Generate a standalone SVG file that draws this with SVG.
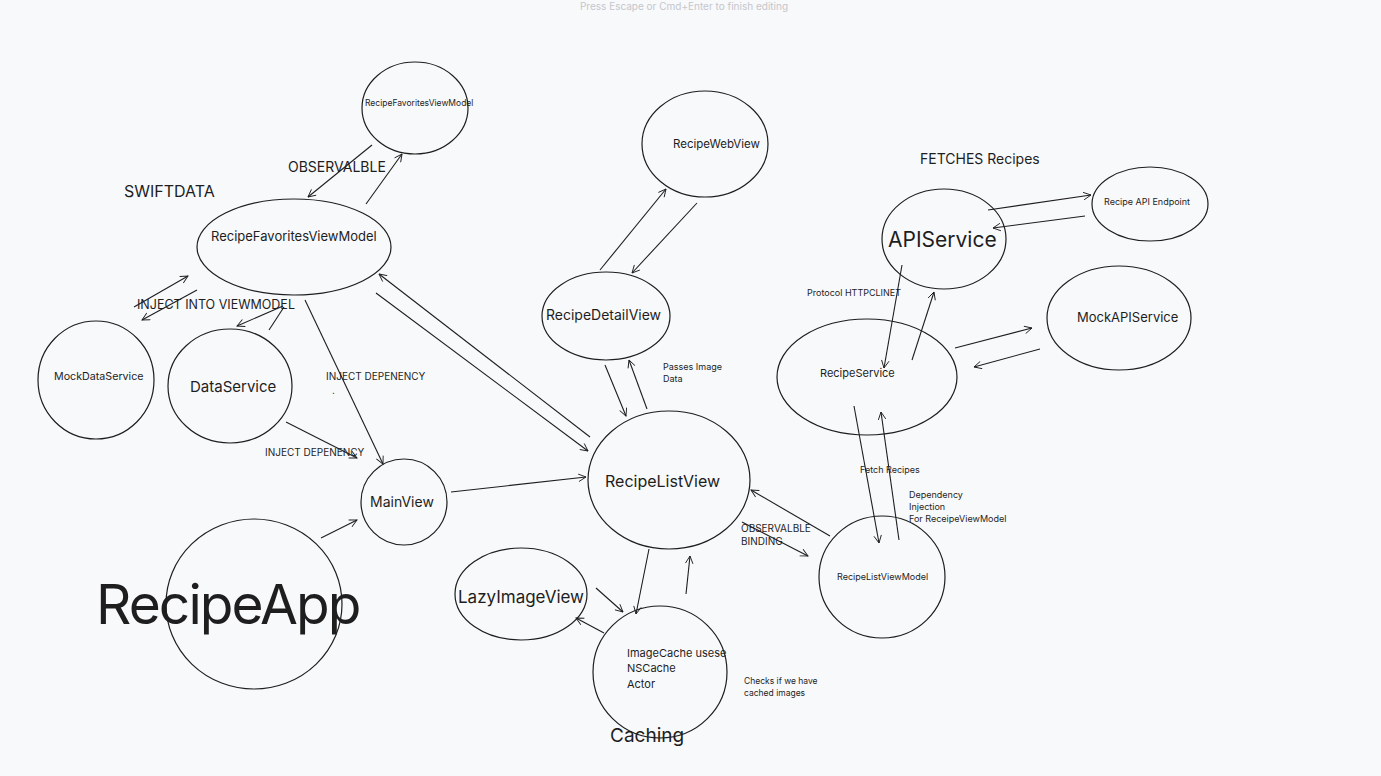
<svg xmlns="http://www.w3.org/2000/svg" width="1381" height="776" viewBox="0 0 1381 776">
<defs>
<marker id="ah" viewBox="0 0 12 12" refX="11" refY="6" markerWidth="9" markerHeight="9" orient="auto" markerUnits="userSpaceOnUse">
<path d="M1,1 L11,6 L1,11" fill="none" stroke="#1e1e1e" stroke-width="1.2"/>
</marker>
<style>
.n{fill:none;stroke:#1e1e1e;stroke-width:1.2}
.c line{stroke:#1e1e1e;stroke-width:1.1;marker-end:url(#ah)}
.c line.p{marker-end:none}
text{font-family:Inter,"Noto Sans","Liberation Sans",sans-serif;fill:#1e1e1e}
</style>
</defs>
<rect width="1381" height="776" fill="#f8f9fb"/>
<text x="684" y="10" font-size="10" style="fill:#c4c6cc" text-anchor="middle">Press Escape or Cmd+Enter to finish editing</text>

<g id="n-rfvm-small"><ellipse class="n" cx="415" cy="108" rx="53" ry="46"/><text x="365" y="106" font-size="8.5">RecipeFavoritesViewModel</text></g>
<g id="n-rfvm"><ellipse class="n" cx="294" cy="247" rx="97" ry="48"/><text x="211" y="241" font-size="13">RecipeFavoritesViewModel</text></g>
<g id="n-mockdata"><ellipse class="n" cx="96" cy="380" rx="58" ry="59"/><text x="54" y="380" font-size="10.7">MockDataService</text></g>
<g id="n-data"><ellipse class="n" cx="230" cy="386" rx="62" ry="57"/><text x="190" y="392" font-size="15">DataService</text></g>
<g id="n-main"><ellipse class="n" cx="404" cy="502" rx="43" ry="43"/><text x="370" y="507" font-size="14">MainView</text></g>
<g id="n-app"><ellipse class="n" cx="254" cy="604" rx="88" ry="85"/><text x="96" y="624" font-size="55" letter-spacing="-1.9">RecipeApp</text></g>
<g id="n-web"><ellipse class="n" cx="705" cy="144" rx="63" ry="53"/><text x="673" y="148" font-size="11.5">RecipeWebView</text></g>
<g id="n-detail"><ellipse class="n" cx="606" cy="316" rx="64" ry="44"/><text x="546" y="320" font-size="14">RecipeDetailView</text></g>
<g id="n-list"><ellipse class="n" cx="669" cy="480" rx="81" ry="69"/><text x="605" y="487" font-size="16">RecipeListView</text></g>
<g id="n-lazy"><ellipse class="n" cx="521" cy="594" rx="66" ry="46"/><text x="458" y="603" font-size="17">LazyImageView</text></g>
<g id="n-cache"><ellipse class="n" cx="660" cy="672" rx="67" ry="66"/><text font-size="11"><tspan x="627" y="657">ImageCache usese</tspan><tspan x="627" y="672">NSCache</tspan><tspan x="627" y="688">Actor</tspan></text></g>
<g id="n-api"><ellipse class="n" cx="944" cy="239" rx="62" ry="50"/><text x="888" y="247" font-size="21">APIService</text></g>
<g id="n-endpoint"><ellipse class="n" cx="1150" cy="204" rx="58" ry="37"/><text x="1104" y="205" font-size="9">Recipe API Endpoint</text></g>
<g id="n-mockapi"><ellipse class="n" cx="1119" cy="318" rx="72" ry="52"/><text x="1077" y="322" font-size="13">MockAPIService</text></g>
<g id="n-service"><ellipse class="n" cx="867" cy="377" rx="90" ry="58"/><text x="820" y="377" font-size="11">RecipeService</text></g>
<g id="n-listvm"><ellipse class="n" cx="882" cy="577" rx="63" ry="61"/><text x="837" y="580" font-size="9">RecipeListViewModel</text></g>

<g id="connectors" class="c">
<line x1="372" y1="145" x2="308" y2="197"/>
<line x1="366" y1="204" x2="402" y2="154"/>
<line x1="134" y1="307" x2="188" y2="276"/>
<line x1="197" y1="290" x2="142" y2="320"/>
<line x1="283" y1="306" x2="237" y2="326"/>
<line class="p" x1="284" y1="307" x2="269" y2="330"/>
<line x1="305" y1="300" x2="383" y2="464"/>
<line x1="286" y1="422" x2="357" y2="458"/>
<line x1="321" y1="538" x2="357" y2="520"/>
<line x1="451" y1="492" x2="586" y2="477"/>
<line x1="590" y1="437" x2="379" y2="274"/>
<line x1="376" y1="293" x2="588" y2="451"/>
<line x1="600" y1="270" x2="666" y2="189"/>
<line x1="697" y1="203" x2="632" y2="273"/>
<line x1="605" y1="365" x2="626" y2="416"/>
<line x1="647" y1="409" x2="629" y2="360"/>
<line x1="649" y1="549" x2="636" y2="614"/>
<line x1="686" y1="594" x2="690" y2="556"/>
<line x1="596" y1="588" x2="623" y2="612"/>
<line x1="604" y1="633" x2="576" y2="618"/>
<line x1="830" y1="536" x2="751" y2="490"/>
<line x1="742" y1="522" x2="808" y2="556"/>
<line x1="854" y1="406" x2="879" y2="543"/>
<line x1="899" y1="540" x2="881" y2="412"/>
<line x1="902" y1="265" x2="884" y2="368"/>
<line x1="912" y1="360" x2="934" y2="292"/>
<line x1="955" y1="348" x2="1032" y2="328"/>
<line x1="1040" y1="349" x2="974" y2="367"/>
<line x1="988" y1="210" x2="1091" y2="195"/>
<line x1="1085" y1="216" x2="993" y2="228"/>
</g>

<g id="labels">
<text x="124" y="197" font-size="16">SWIFTDATA</text>
<text x="288" y="172" font-size="14">OBSERVALBLE</text>
<text x="137" y="309" font-size="12.5">INJECT INTO VIEWMODEL</text>
<text x="326" y="380" font-size="10">INJECT DEPENENCY</text>
<text x="332" y="394" font-size="10">.</text>
<text x="265" y="456" font-size="10">INJECT DEPENENCY</text>
<text x="920" y="164" font-size="14">FETCHES Recipes</text>
<text x="807" y="296" font-size="9">Protocol HTTPCLINET</text>
<text font-size="9"><tspan x="663" y="370">Passes Image</tspan><tspan x="663" y="382">Data</tspan></text>
<text font-size="10"><tspan x="741" y="532">OBSERVALBLE</tspan><tspan x="741" y="545">BINDING</tspan></text>
<text x="860" y="473" font-size="9">Fetch Recipes</text>
<text font-size="9"><tspan x="909" y="498">Dependency</tspan><tspan x="909" y="510">Injection</tspan><tspan x="909" y="522">For ReceipeViewModel</tspan></text>
<text font-size="8.5"><tspan x="744" y="684">Checks if we have</tspan><tspan x="744" y="696">cached images</tspan></text>
<text x="610" y="742" font-size="19">Caching</text>
</g>
</svg>
